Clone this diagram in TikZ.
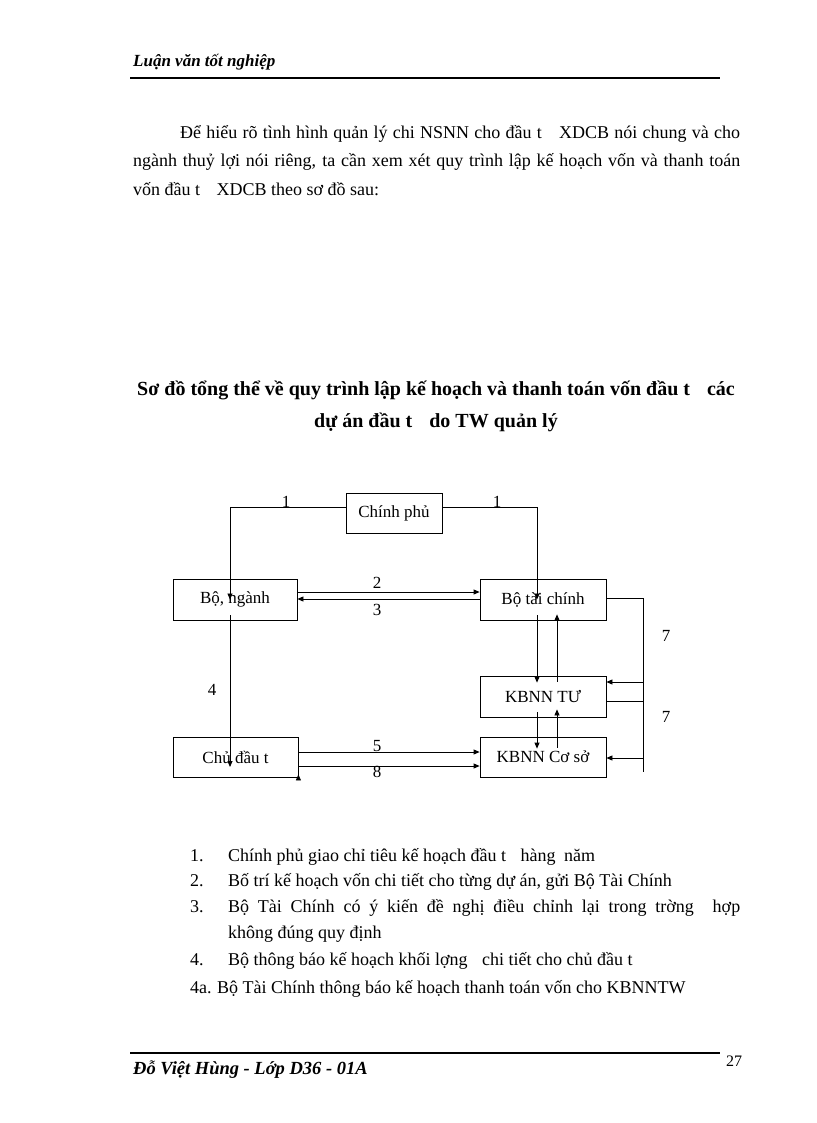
\documentclass[tikz,border=0pt]{standalone}
\usepackage{fontspec}
\setmainfont{Liberation Serif}
\usetikzlibrary{arrows.meta,calc}
\begin{document}
\begin{tikzpicture}[x=1pt,y=-1pt,
  box/.style={draw, line width=0.8pt, inner sep=0pt, font=\fontsize{17}{20}\selectfont},
  conn/.style={line width=0.8pt},
  arr/.style={conn, -{Triangle[length=6pt,width=5pt]}},
  lbl/.style={font=\fontsize{17}{20}\selectfont, inner sep=0pt},
  body/.style={font=\fontsize{18}{22}\selectfont, inner sep=0pt, anchor=base west},
  title/.style={font=\bfseries\fontsize{20}{24}\selectfont, inner sep=0pt, anchor=base},
  script/.style={font=\bfseries\itshape\fontsize{17}{20}\selectfont, inner sep=0pt, anchor=base west},
  rule/.style={line width=2pt},
]
\useasboundingbox[fill=white] (0,0) rectangle (816,1123);

% header
\node[script] (hdr) at (133,67) {Luận văn tốt nghiệp};
\coordinate (hl) at (130,78); \coordinate (hr) at (720,78);
\draw[rule] (hl) -- (hr);

% paragraph
\node[body] (p1) at (180,139) {\makebox[560pt][s]{Để hiểu rõ tình hình quản lý chi NSNN cho đầu t\hspace{12pt} XDCB nói chung và cho}};
\node[body] (p2) at (133,167) {\makebox[607pt][s]{ngành thuỷ lợi nói riêng, ta cần xem xét quy trình lập kế hoạch vốn và thanh toán}};
\node[body] (p3) at (133,196) {vốn đầu t\hspace{12pt} XDCB theo sơ đồ sau:};

% title
\node[title] (t1) at (436,395) {Sơ đồ tổng thể về quy trình lập kế hoạch và thanh toán vốn đầu t\hspace{12pt} các};
\node[title] (t2) at (436,427) {dự án đầu t\hspace{12pt} do TW quản lý};

% boxes
\node[box, minimum width=96pt, minimum height=40pt] (cp) at (394,513) {Chính phủ};
\node[box, minimum width=124pt, minimum height=41pt] (bn) at (235,599.5) {Bộ, ngành};
\node[box, minimum width=126pt, minimum height=41pt] (btc) at (543,599.5) {Bộ tài chính};
\node[box, minimum width=126pt, minimum height=41pt] (tu) at (543,696.5) {KBNN TƯ};
\node[box, minimum width=126pt, minimum height=40pt] (cs) at (543,757) {KBNN Cơ sở};
\node[box, minimum width=125pt, minimum height=40pt] (cdt) at (235.5,757) {Chủ đầu t};

% 1
\coordinate (L1) at (230,507); \coordinate (R1) at (537,507);
\draw[arr] (cp.west |- L1) -- (L1) -- (L1 |- bn.center);
\draw[arr] (cp.east |- R1) -- (R1) -- (R1 |- btc.center);
\node[lbl, anchor=south] (l1a) at (286,508) {1};
\node[lbl, anchor=south] (l1b) at (497,508) {1};

% 2, 3
\draw[arr] (bn.east |- 0,592) -- (btc.west |- 0,592);
\draw[arr] (btc.west |- 0,599) -- (bn.east |- 0,599);
\node[lbl] (l2) at (377,583) {2};
\node[lbl] (l3) at (377,610) {3};

% btc <-> KBNN
\draw[arr] ($(btc.south)+(-6,-5)$) -- ($(tu.north)+(-6,7)$);
\draw[arr] ($(tu.north)+(14,6)$) -- ($(btc.south)+(14,-6)$);
\draw[arr] ($(tu.south)+(-6,-5)$) -- ($(cs.north)+(-6,12)$);
\draw[arr] ($(cs.north)+(14,11)$) -- ($(tu.south)+(14,-8)$);

% 7 bus
\coordinate (bt) at (643,598); \coordinate (bb) at (643,772);
\draw[conn] (btc.east |- bt) -- (bt) -- (bb);
\draw[arr] (bt |- 0,682) -- (tu.east |- 0,682);
\draw[conn] (tu.east |- 0,701) -- (bt |- 0,701);
\draw[arr] (bt |- 0,758) -- (cs.east |- 0,758);
\node[lbl] (l7a) at (666,636) {7};
\node[lbl] (l7b) at (666,717) {7};

% 4
\draw[arr] ($(bn.south)+(-5,-5)$) -- ($(cdt.center)+(-5.5,10)$);
\node[lbl] (l4) at (212,690) {4};

% 5, 8
\draw[arr] (cdt.east |- 0,752) -- (cs.west |- 0,752);
\draw[arr] (cdt.east |- 0,766) -- (cs.west |- 0,766);
\node[lbl] (l5) at (377,746) {5};
\node[lbl] (l8) at (377,772) {8};
\draw[arr] ($(cdt.south east)+(0,2)$) -- ($(cdt.south east)+(0,-3)$);

% list
\node[body] (n1) at (190,861) {1.};
\node[body] (i1) at (228,861) {Chính phủ giao chỉ tiêu kế hoạch đầu t\hspace{10pt} hàng\hspace{4pt} năm};
\node[body] (n2) at (190,886) {2.};
\node[body] (i2) at (228,886) {Bố trí kế hoạch vốn chi tiết cho từng dự án, gửi Bộ Tài Chính};
\node[body] (n3) at (190,912) {3.};
\node[body] (i3) at (228,912) {\makebox[512pt][s]{Bộ Tài Chính có ý kiến đề nghị điều chỉnh lại trong trờng\hspace{10pt} hợp}};
\node[body] (i3b) at (228,938) {không đúng quy định};
\node[body] (n4) at (190,965) {4.};
\node[body] (i4) at (228,965) {Bộ thông báo kế hoạch khối lợng\hspace{10pt} chi tiết cho chủ đầu t};
\node[body] (n4a) at (190,993) {4a.};
\node[body] (i4a) at (217,993) {Bộ Tài Chính thông báo kế hoạch thanh toán vốn cho KBNNTW};

% footer
\coordinate (fl) at (130,1053); \coordinate (fr) at (720,1053);
\draw[rule] (fl) -- (fr);
\node[script, font=\bfseries\itshape\fontsize{18.5}{22}\selectfont] (ftr) at (133,1074) {Đỗ Việt Hùng - Lớp D36 - 01A};
\node[body, font=\fontsize{16}{19}\selectfont] (pg) at (726,1066) {27};
\end{tikzpicture}
\end{document}
